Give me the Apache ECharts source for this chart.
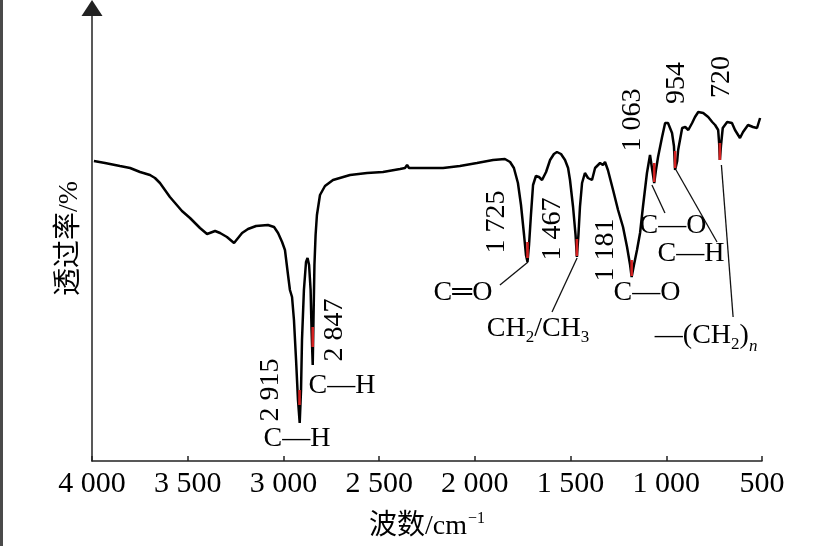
<!DOCTYPE html>
<html>
<head>
<meta charset="utf-8">
<script src="https://cdn.jsdelivr.net/npm/echarts@6/dist/echarts.min.js"></script>
<style>
html,body{margin:0;padding:0;background:#fff;}
#chart{width:833px;height:546px;}
</style>
</head>
<body>
<div id="chart"></div>
<script>
// Spectrum: wavenumber (cm^-1) and transmittance (arbitrary)
const wavenumbers = [3990,3932,3854,3801,3749,3697,3671,3645,3619,3593,3566,3530,3488,3436,3399,3357,3331,3295,3258,3216,3185,3143,3081,3049,3028,3007,2992,2976,2966,2955,2945,2934,2924,2915,2908,2903,2893,2882,2874,2866,2858,2853,2847,2843,2838,2832,2825,2809,2783,2741,2652,2563,2480,2391,2365,2354,2344,2287,2166,2078,1989,1905,1843,1816,1796,1775,1759,1743,1733,1725,1717,1707,1696,1681,1665,1649,1628,1607,1587,1571,1550,1529,1513,1503,1487,1474,1467,1459,1451,1440,1425,1409,1388,1372,1346,1331,1320,1305,1278,1252,1226,1205,1189,1181,1169,1153,1137,1122,1101,1085,1075,1063,1054,1043,1022,1006,991,970,960,954,943,938,917,901,885,865,850,833,807,781,760,745,729,724,720,714,705,682,657,641,615,599,573,547,526,510];
const transmittance = [300,298,295,293,289,286,283,278,271,264,258,250,243,233,227,230,228,224,218,228,232,235,236,234,228,219,211,186,171,164,141,101,61,38,71,121,171,199,203,196,171,131,96,141,196,226,246,266,275,281,286,288,289,292,293,296,293,293,293,295,298,301,302,299,293,278,256,226,206,199,216,246,276,285,284,281,289,301,307,309,307,301,293,281,254,226,204,226,254,278,288,283,281,293,298,296,299,291,271,251,234,214,196,184,196,211,228,254,288,306,304,278,291,304,324,338,338,328,315,291,300,311,333,334,331,338,344,349,348,344,339,336,331,318,301,316,333,339,338,331,323,329,336,334,333,343];

// Peak labels
const peakNumbers = ['2 915','2 847','1 725','1 467','1 181','1 063','954','720'];
const peakNumberPos = [[3065,71],[2731,131],[1884,239],[1592,232],[1315,211],[1174,341],[944,378],[709,384]];
const groupLabels = ['C—H','C—H','C═O','CH{s|2}/CH{s|3}','C—O','C—O','C—H','—(CH{s|2}){n|n}'];
const groupLabelPos = [[2929,22],[2694,75],[2062,168],[1670,132],[1101,168],[965,235],[871,207],[792,125]];

// Red highlighted segments at the band minima
const redSegments = [
  [[2916,56],[2916,71]],
  [[2847,114],[2847,134]],
  [[1725,203],[1725,219]],
  [[1467,205],[1467,222]],
  [[1181,185],[1181,201]],
  [[1063,279],[1063,298]],
  [[954,293],[954,310]],
  [[720,301],[720,318]]
];
// Leader lines from labels to bands
const leaderLines = [
  [[1869,176],[1722,199]],
  [[1597,149],[1466,203]],
  [[1075,276],[1007,248]],
  [[949,291],[735,219]],
  [[712,296],[651,144]]
];

const xTicks = {min:500, max:4000, interval:500};
const xTitle = '{t|波数/cm}{sup|−1}';
const yTitle = '透过率/%';

const serif = "'Liberation Serif','Noto Sans CJK SC',serif";
const ink = '#000';

const chart = echarts.init(document.getElementById('chart'), null, {renderer:'canvas'});

const spectrum = wavenumbers.map((w,i)=>[w, transmittance[i]]);

const labelItems = [];
peakNumbers.forEach((t,i)=>labelItems.push({name:t, value:peakNumberPos[i], label:{rotate:90}}));
groupLabels.forEach((t,i)=>labelItems.push({name:t, value:groupLabelPos[i], label:{rotate:0}}));

const series = [
  {
    type:'line', data:spectrum, showSymbol:false, smooth:false,
    lineStyle:{color:'#000', width:2.5}, z:3, silent:true
  }
];
leaderLines.forEach(seg=>series.push({
  type:'line', data:seg, showSymbol:false, lineStyle:{color:'#111', width:1.3}, z:2, silent:true
}));
redSegments.forEach(seg=>series.push({
  type:'line', data:seg, showSymbol:false, lineStyle:{color:'#d42020', width:2.6}, z:4, silent:true
}));
series.push({
  type:'scatter', data:labelItems, symbolSize:0, silent:true, z:5,
  itemStyle:{opacity:1, color:'#000'},
  label:{
    show:true, position:'inside', formatter:p=>p.name,
    fontFamily:serif, fontSize:28, color:ink, lineHeight:30, textBorderWidth:0, opacity:1,
    rich:{
      s:{fontFamily:serif, fontSize:17, color:ink, lineHeight:17, verticalAlign:'bottom', padding:[0,0,-2,0]},
      n:{fontFamily:serif, fontSize:17, color:ink, lineHeight:17, fontStyle:'italic', verticalAlign:'bottom', padding:[0,0,-4,0]}
    }
  }
});

chart.setOption({
  animation:false,
  backgroundColor:'#fff',
  grid:{left:92, right:71, top:16, bottom:85, containLabel:false},
  xAxis:{
    type:'value', inverse:true, min:xTicks.min, max:xTicks.max, interval:xTicks.interval,
    axisLine:{show:true, lineStyle:{color:'#222', width:1.5}},
    axisTick:{show:true, inside:true, length:5, lineStyle:{color:'#222', width:1.5}},
    splitLine:{show:false},
    axisLabel:{
      fontFamily:serif, fontSize:30, color:ink, margin:8,
      formatter:v=> v>=1000 ? Math.floor(v/1000)+' '+String(v%1000).padStart(3,'0') : String(v)
    },
    name:xTitle, nameLocation:'middle', nameGap:50,
    nameTextStyle:{
      fontFamily:serif, fontSize:28, color:ink,
      rich:{
        t:{fontFamily:serif, fontSize:28, color:ink, lineHeight:32},
        sup:{fontFamily:serif, fontSize:16, color:ink, lineHeight:16, verticalAlign:'top', padding:[0,0,12,1]}
      }
    }
  },
  yAxis:{
    type:'value', min:0, max:445,
    axisLine:{show:true, symbol:['none','triangle'], symbolSize:[21,16], symbolOffset:[0,8],
      lineStyle:{color:'#222', width:1.5}},
    axisTick:{show:false}, axisLabel:{show:false}, splitLine:{show:false},
    name:yTitle, nameLocation:'middle', nameGap:8, nameRotate:90,
    nameTextStyle:{fontFamily:serif, fontSize:28, color:ink}
  },
  graphic:[{type:'rect', left:0, top:0, shape:{width:3, height:546}, style:{fill:'#4a4a4a'}, silent:true}],
  series:series
});
</script>
</body>
</html>
